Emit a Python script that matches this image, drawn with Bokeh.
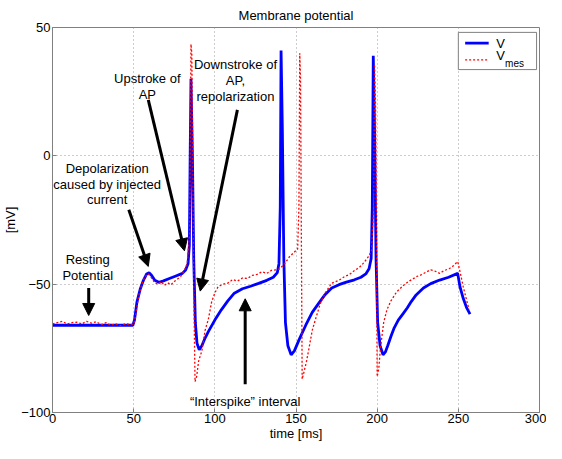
from bokeh.plotting import figure
from bokeh.models import Range1d, FixedTicker, Arrow, NormalHead, BoxAnnotation, Label
from bokeh.embed import file_html
from bokeh.resources import INLINE
from bokeh.core.properties import value

# ---- data ----
t_v = [0, 10, 20, 30, 40, 49.5, 50.5, 52, 54, 56, 58, 59.5, 61, 63, 65.5, 68, 72, 76, 80, 82,
       83.5, 84.3, 84.8, 85.3, 86.2, 87, 88, 89, 90.4, 92, 94, 96, 100, 104, 108, 112, 117, 122,
       127, 132, 136, 138.5, 139.5, 140.3, 140.8, 141.6, 142.5, 143.5, 145, 147, 149, 152, 156,
       160, 164.5, 168, 172, 176.5, 181, 186, 190, 193, 195, 196.3, 197, 197.6, 198.4, 199.3,
       200.3, 201.8, 203.6, 205, 206.5, 208.4, 210.5, 213, 216, 218.5, 221, 224, 228.5, 233,
       238.5, 244, 249.6, 251, 253, 255, 257.2]
v_v = [-66, -66, -66, -66, -66, -66, -64, -57, -52, -48.5, -46, -45.5, -46.5, -48.5, -49.3, -48.8,
       -47.8, -46.8, -45.8, -44.5, -42, -35, 0, 30, 0, -40, -65, -73, -75.6, -74, -71, -68.5, -64,
       -60, -56.5, -53.5, -51.8, -50.8, -49.7, -48.5, -47.3, -45.5, -42, -20, 41, 10, -40, -65,
       -74, -77.5, -76, -71.5, -66, -61, -57, -54, -51.5, -50.2, -49.2, -48.3, -47.3, -46, -44,
       -40, -20, 39, 10, -40, -65, -74, -77.5, -76.5, -74, -70.5, -67, -64, -61.5, -59.3, -56.8,
       -54.2, -51.5, -49.8, -48.4, -47.3, -45.8, -51, -55.5, -59, -61.7]

t_mes = [0, 3, 6, 9, 12, 15, 18, 21, 24, 27, 30, 33, 36, 39, 42, 45, 48, 50, 51, 53, 55, 57, 59,
         61, 63, 65, 67, 69, 71, 73, 75, 77, 79, 81, 83, 84.5, 85.3, 85.8, 86.4, 87, 87.8, 88.8,
         90, 92, 94, 96, 98, 100, 102, 105, 108, 111, 114, 117, 120, 123, 126, 129, 132, 135,
         138, 140, 143, 146, 149, 151, 151.8, 152.3, 152.8, 153.2, 153.8, 155, 156.5, 158, 160,
         162, 165, 168, 172, 176.5, 180, 183, 186, 189, 192, 194.6, 196.5, 197.8, 198.4, 199,
         199.5, 200, 201, 202, 204, 206, 208.4, 212, 216.5, 220, 224.5, 227, 230.5, 233, 236,
         238.5, 241, 244.6, 247, 249.6, 251, 253, 255, 256.6]
v_mes = [-65.5, -65, -64.5, -65.5, -65, -64.8, -65.5, -64.5, -65.2, -64.6, -65.8, -65, -66, -65.5,
         -66.2, -65.4, -65.8, -65.5, -63, -55, -50, -47, -46, -47.5, -49.5, -50, -49, -50.5, -49.5,
         -50.2, -49, -48, -47, -45, -42, -30, 43.5, 40, 0, -50, -88, -86, -80, -76, -68, -63.7,
         -57, -53.4, -51, -50, -49.6, -48.2, -48.8, -47.6, -47.8, -46.6, -46.2, -45.2, -45.8,
         -44.6, -44.4, -44, -42, -39.3, -37.5, -36.3, -20, 40, 30, -20, -87, -84, -80, -75, -68,
         -63.7, -57.5, -53.4, -49.6, -48.5, -47, -46.2, -44.7, -43.5, -41.5, -39.3, -37, -20,
         35.6, 20, -20, -86, -83, -75, -65, -60, -56.6, -53, -50.3, -48.7, -47, -46.4, -45.2,
         -44.4, -45, -45.8, -44.8, -43.9, -42.8, -41.2, -45, -51, -56, -59.8]

x_ticks = [0, 50, 100, 150, 200, 250, 300]
y_ticks = [-100, -50, 0, 50]

FONT = "Liberation Sans"

p = figure(width=546, height=443, x_range=Range1d(0, 300), y_range=Range1d(-100, 50),
           output_backend="svg", toolbar_location=None, title="Membrane potential",
           min_border_left=40, min_border_right=7, min_border_top=27, min_border_bottom=29)

p.title.align = "center"
p.title.text_font = FONT
p.title.text_font_size = "13px"
p.title.text_font_style = "normal"
p.title.text_color = "black"
p.title.standoff = 9

p.outline_line_color = "#808080"
p.outline_line_width = 1
p.background_fill_color = "white"
p.border_fill_color = "white"

for ax in (p.xaxis[0], p.yaxis[0]):
    ax.axis_line_color = "#808080"
    ax.major_tick_line_color = "#808080"
    ax.major_tick_in = 4
    ax.major_tick_out = 0
    ax.minor_tick_line_color = None
    ax.major_label_text_font = FONT
    ax.major_label_text_font_size = "13px"
    ax.major_label_text_color = "black"
    ax.axis_label_text_font = FONT
    ax.axis_label_text_font_size = "13px"
    ax.axis_label_text_font_style = "normal"
    ax.axis_label_text_color = "black"

p.xaxis.ticker = FixedTicker(ticks=x_ticks)
p.yaxis.ticker = FixedTicker(ticks=y_ticks)
p.xaxis.axis_label = "time [ms]"
p.yaxis.axis_label = "[mV]"
p.xaxis.major_label_standoff = 1
p.xaxis.axis_label_standoff = 0
p.yaxis.major_label_standoff = 2
p.yaxis.axis_label_standoff = 0

p.xgrid.ticker = FixedTicker(ticks=x_ticks)
p.ygrid.ticker = FixedTicker(ticks=y_ticks)
for g in (p.xgrid[0], p.ygrid[0]):
    g.grid_line_color = "#9a9a9a"
    g.grid_line_dash = "1 3"
    g.grid_line_width = 1

p.line(t_v, v_v, line_color="blue", line_width=2.8)
p.line(t_mes, v_mes, line_color="red", line_width=1.3, line_dash="2 2")

# annotation texts
p.text(x=[21.7, 21.7, 33.7, 33.7, 33.7, 58.4, 58.4, 112.7, 112.7, 112.7, 118.7],
       y=[-40.5, -46.6, -5, -11, -17.2, 30.2, 24, 35.5, 29.4, 23.3, -95.8],
       text=["Resting", "Potential", "Depolarization", "caused by injected", "current",
             "Upstroke of", "AP", "Downstroke of", "AP,", "repolarization",
             "\u201cInterspike\u201d interval"],
       text_align="center", text_baseline="middle", text_font=value(FONT),
       text_font_size="13px", text_color="black")

arrows = [((22.3, -51.5), (22.3, -62.2)),
          ((47, -21), (59, -43.1)),
          ((59, 21.8), (81.3, -37)),
          ((113.9, 17.9), (91, -52.7)),
          ((118.7, -89), (118.7, -55.7))]
for (xs, ys), (xe, ye) in arrows:
    p.add_layout(Arrow(end=NormalHead(size=12, fill_color="black", line_color="black"),
                       x_start=xs, y_start=ys, x_end=xe, y_end=ye,
                       line_width=3, line_color="black"))

# legend (custom, to allow the subscript)
p.add_layout(BoxAnnotation(left=250, right=298.2, top=48.1, bottom=33.6,
                           fill_color="white", fill_alpha=1, line_color="#808080",
                           line_width=1, line_alpha=1))
p.add_layout(Arrow(end=None, x_start=254.2, y_start=43.9, x_end=268.7, y_end=43.9,
                   line_color="blue", line_width=2.8))
p.add_layout(Arrow(end=None, x_start=254.2, y_start=37.4, x_end=268.7, y_end=37.4,
                   line_color="red", line_width=1.3, line_dash="2 2"))
p.add_layout(Label(x=273.3, y=43.9, text="V", text_font=FONT, text_font_size="13px",
                   text_baseline="middle", text_align="left", text_color="black"))
p.add_layout(Label(x=273.3, y=38.9, text="V", text_font=FONT, text_font_size="13px",
                   text_baseline="middle", text_align="left", text_color="black"))
p.add_layout(Label(x=278.8, y=35.9, text="mes", text_font=FONT, text_font_size="10px",
                   text_baseline="middle", text_align="left", text_color="black"))

open("out.html", "w").write(file_html(p, INLINE))
